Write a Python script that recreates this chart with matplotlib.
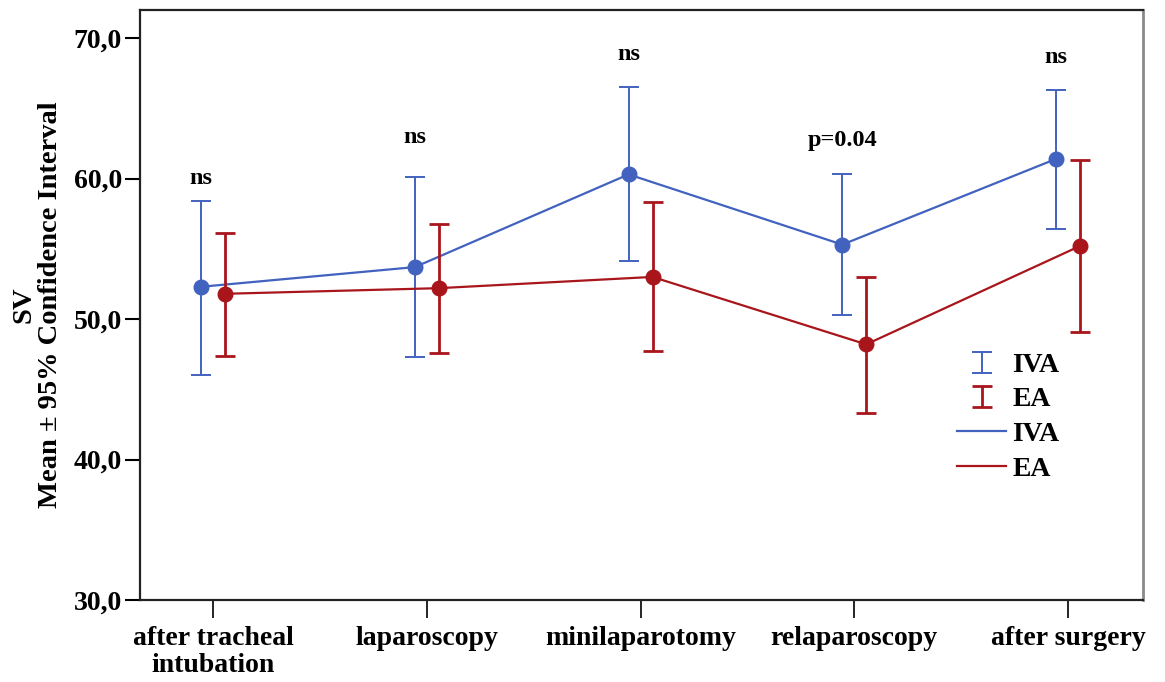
import numpy as np
import matplotlib
matplotlib.use("Agg")
import matplotlib.pyplot as plt
from matplotlib.legend_handler import HandlerErrorbar

# SV by stage: mean and 95% CI bounds per group
stages = ["after tracheal\nintubation", "laparoscopy", "minilaparotomy",
          "relaparoscopy", "after surgery"]
iva_mean = [52.3, 53.7, 60.3, 55.3, 61.4]
iva_lo = [46.0, 47.3, 54.1, 50.3, 56.4]
iva_hi = [58.4, 60.1, 66.5, 60.3, 66.3]
ea_mean = [51.8, 52.2, 53.0, 48.2, 55.2]
ea_lo = [47.4, 47.6, 47.7, 43.3, 49.1]
ea_hi = [56.1, 56.8, 58.3, 53.0, 61.3]
sig_labels = ["ns", "ns", "ns", "p=0.04", "ns"]
sig_gap = [1.6, 2.8, 2.3, 2.4, 2.3]

BLUE = "#4262bf"
RED = "#a8161c"

plt.rcParams["font.family"] = ["Liberation Serif", "DejaVu Serif"]
plt.rcParams["font.weight"] = "bold"
plt.rcParams["axes.labelweight"] = "bold"

fig = plt.figure(figsize=(11.65, 6.82), dpi=100)
ax = fig.add_axes([0.1202, 0.1202, 0.8609, 0.8651])

x = np.arange(len(stages))
dx = 0.056


def draw_group(xpos, mean, lo, hi, color, elw, label):
    mean = np.asarray(mean)
    yerr = [mean - np.asarray(lo), np.asarray(hi) - mean]
    eb = ax.errorbar(xpos, mean, yerr=yerr, fmt="none", ecolor=color,
                     elinewidth=elw, capsize=7.5, capthick=elw, label=label)
    ln, = ax.plot(xpos, mean, color=color, lw=1.6, marker="o", ms=10.5,
                  label=label)
    return eb, ln


eb_iva, ln_iva = draw_group(x - dx, iva_mean, iva_lo, iva_hi, BLUE, 1.4, "IVA")
eb_ea, ln_ea = draw_group(x + dx, ea_mean, ea_lo, ea_hi, RED, 2.0, "EA")

for i, lab in enumerate(sig_labels):
    ax.text(x[i] - dx, iva_hi[i] + sig_gap[i], lab, ha="center", va="center",
            fontsize=17.5, fontweight="bold")

ax.set_xlim(-0.342, 4.351)
ax.set_ylim(30, 72.0)
ax.set_xticks(x)
ax.set_xticklabels(stages, fontsize=20, linespacing=1.1)
ax.set_yticks([30, 40, 50, 60, 70])
ax.set_yticklabels(["30,0", "40,0", "50,0", "60,0", "70,0"], fontsize=20)
ax.tick_params(axis="y", length=11, width=1.5, pad=2)
ax.tick_params(axis="x", length=13, width=1.2, pad=6)

for side in ["left", "bottom", "top"]:
    ax.spines[side].set_linewidth(1.6)
    ax.spines[side].set_color("#222222")
ax.spines["right"].set_linewidth(2.0)
ax.spines["right"].set_color("#8a8a8a")

ax.set_ylabel("SV\nMean \u00b1 95% Confidence Interval", fontsize=20.5,
              linespacing=1.05)
ax.yaxis.set_label_coords(-0.077, 0.5)

leg = ax.legend([eb_iva, eb_ea, ln_iva, ln_ea], ["IVA", "EA", "IVA", "EA"],
                loc="upper left", bbox_to_anchor=(0.79, 0.462), frameon=False,
                fontsize=20, handlelength=1.75, handletextpad=0.22,
                labelspacing=0.33,
                handler_map={type(eb_iva): HandlerErrorbar(yerr_size=0.38)})
for h in leg.legend_handles[2:]:
    h.set_marker("")

fig.savefig("out.png", dpi=100)
